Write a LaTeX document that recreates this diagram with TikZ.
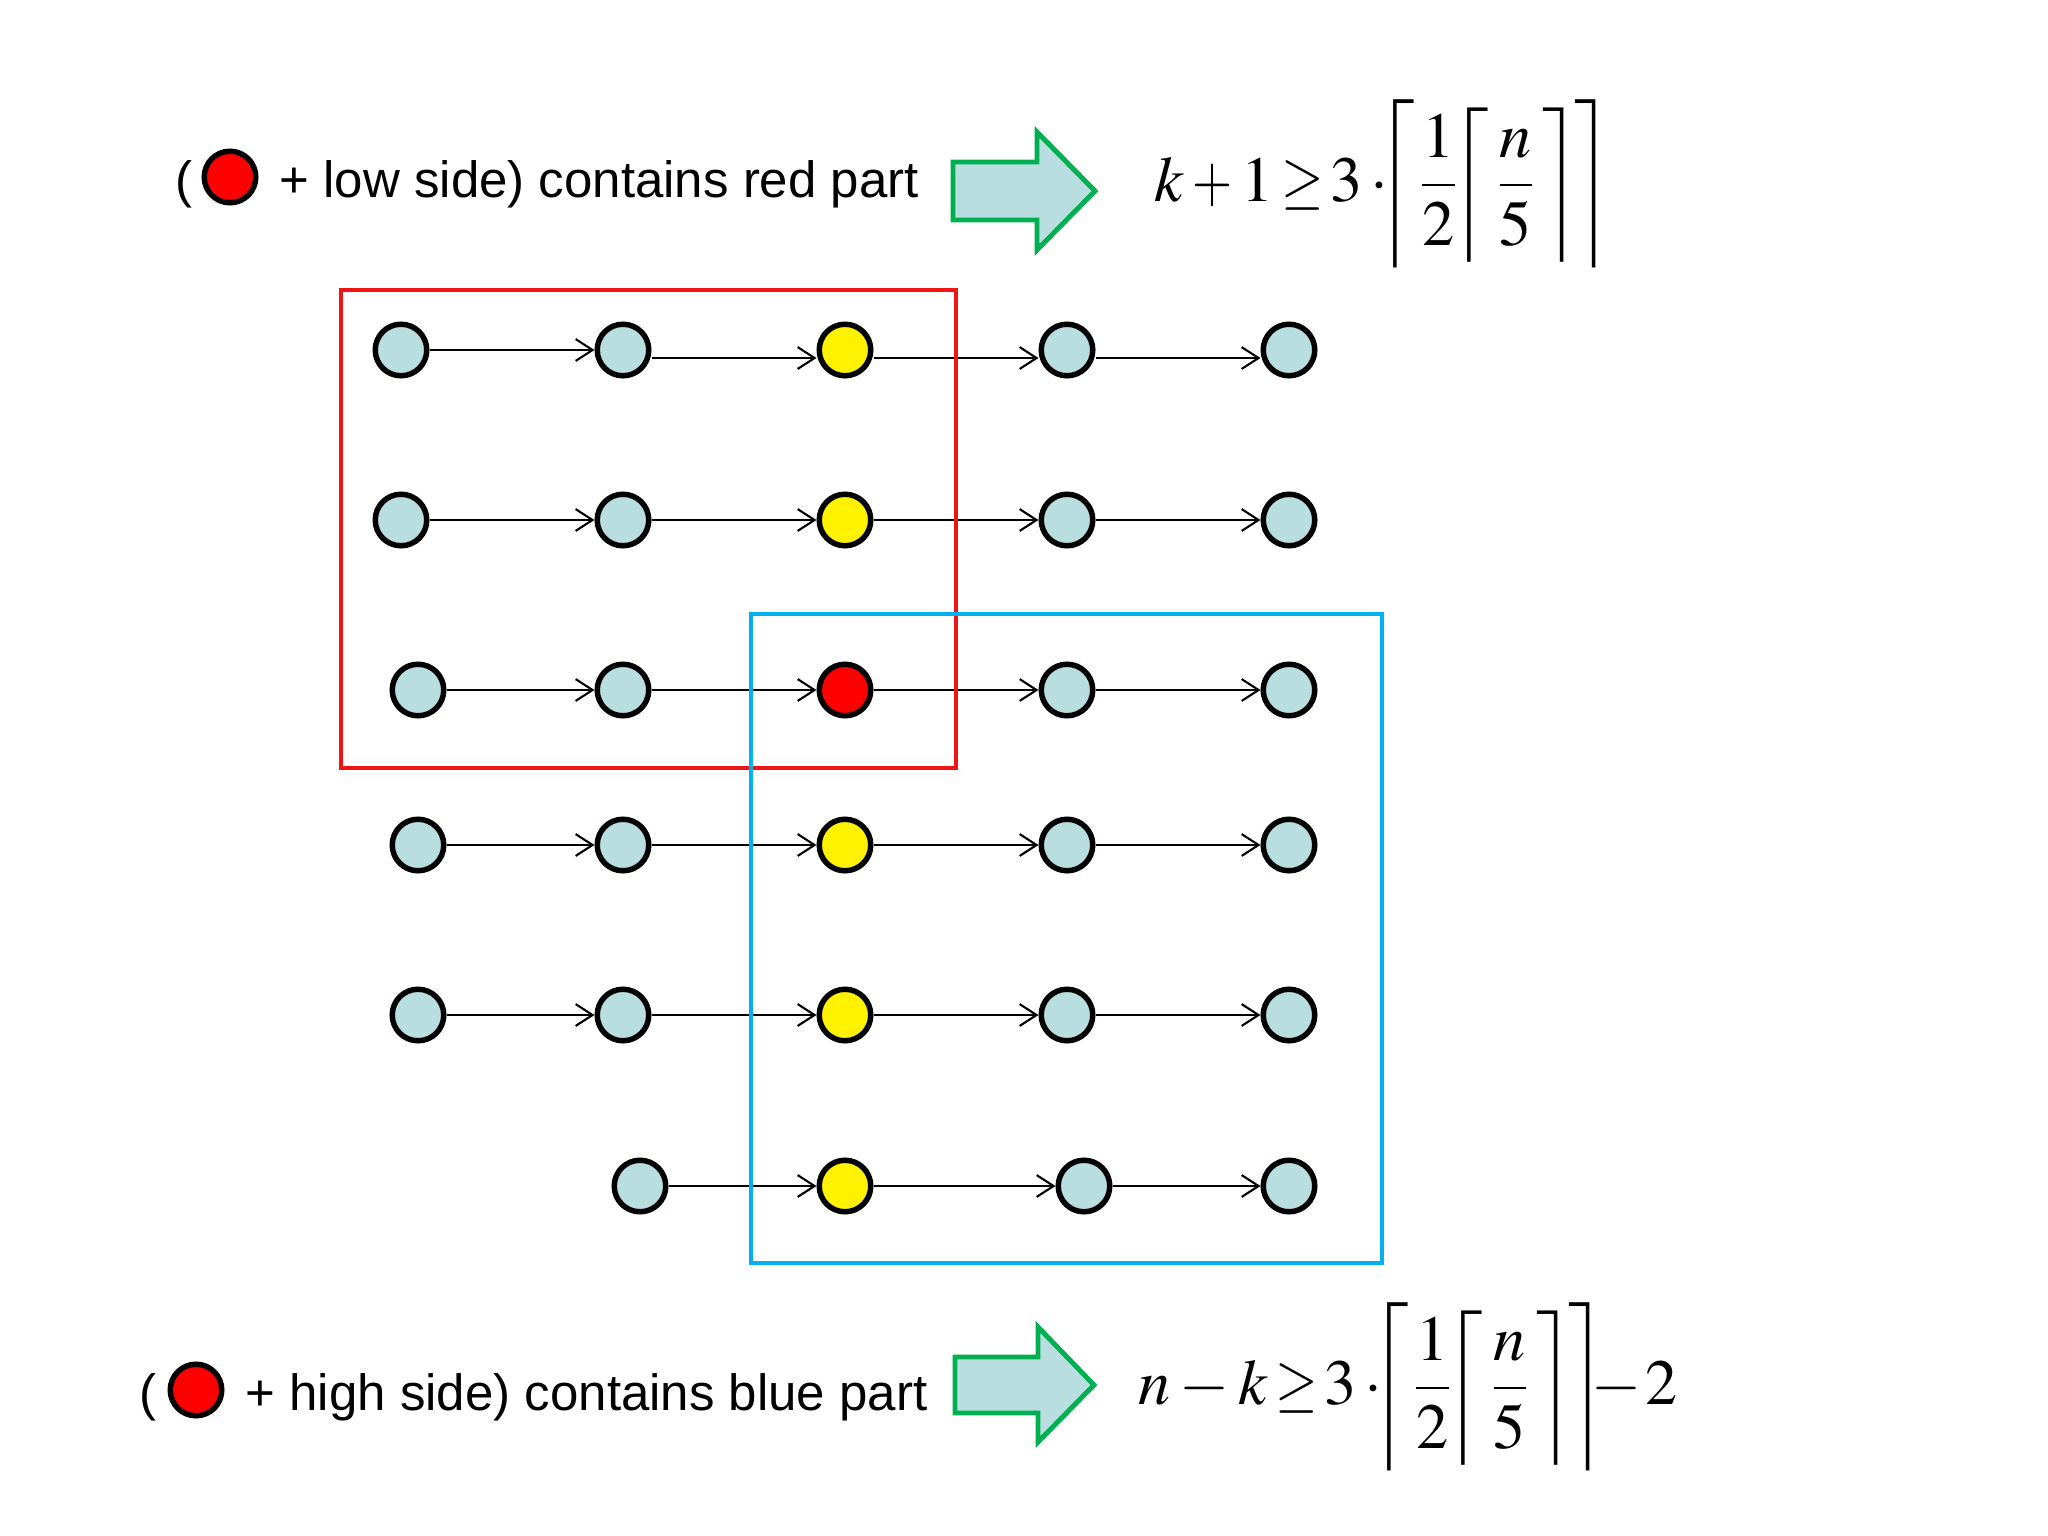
\documentclass[tikz,border=0pt]{standalone}
\usepackage{mathptmx}
\usepackage{graphicx}
\usepackage[no-math]{fontspec}
\setmainfont{Liberation Sans}
\usetikzlibrary{arrows.meta}
\definecolor{nodeblue}{RGB}{185,222,224}
\definecolor{arrowgreen}{RGB}{0,176,80}
\definecolor{boxblue}{RGB}{0,176,240}
\definecolor{boxred}{RGB}{240,20,20}
\newcommand{\olc}{\mathopen{\scalebox{1}[1.09]{$\bigg\lceil$}}}
\newcommand{\orc}{\mathclose{\scalebox{1}[1.09]{$\bigg\rceil$}}}
\newcommand{\nplus}{\mathbin{\scalebox{0.8}[1]{$+$}}}
\newcommand{\ngeq}{\mathrel{\scalebox{0.85}[1]{$\geq$}}}
\newcommand{\ndot}{\mkern2mu{\cdot}\mkern-3mu}
\newcommand{\fmlceil}{\olc{\frac{1}{2}}\mkern-3mu\biggl\lceil\mkern0.8mu{\frac{n}{5}}\mkern0.8mu\biggr\rceil\mkern-1.5mu\orc}
\begin{document}
\begin{tikzpicture}[x=0.01cm,y=-0.01cm,
  dot/.style={circle, draw=black, line width=1.56pt, minimum size=0.515cm, inner sep=0pt},
  cy/.style={dot, fill=nodeblue},
  yl/.style={dot, fill=yellow},
  rd/.style={dot, fill=red},
  link/.style={line width=0.6pt, -{Straight Barb[length=4.8pt,width=6.2pt]}},
  lbl/.style={font=\fontsize{14.5}{17}\selectfont, inner sep=0pt, anchor=base west},
  fml/.style={inner sep=0pt, anchor=base west, scale=1.83, transform shape,
    execute at begin node={\medmuskip=2.5mu\thickmuskip=2mu}},
  bigarrow/.style={draw=arrowgreen, fill=nodeblue, line width=1.4pt, line join=miter},
  redbox/.style={draw=boxred, line width=1.3pt},
  bluebox/.style={draw=boxblue, line width=1.3pt}]
\useasboundingbox (0,0) rectangle (2048,1536);

% top caption
\node[lbl] (lp1) at (175,197) {(};
\node[rd] (rc1) at (230,177) {};
\node[lbl] (t1) at (279,197) {+ low side) contains red part};
\draw[bigarrow] (953,162) -- (1037,162) -- (1037,132) -- (1095,191) -- (1037,250) -- (1037,220) -- (953,220) -- cycle;
\node[fml] (f1) at (1153,201) {$\displaystyle k\nplus 1\ngeq 3\ndot\fmlceil$};

% bottom caption
\node[lbl] (lp2) at (139,1410) {(};
\node[rd] (rc2) at (196,1390) {};
\node[lbl] (t2) at (245,1410) {+ high side) contains blue part};
\draw[bigarrow] (955,1357) -- (1038,1357) -- (1038,1327) -- (1094,1385) -- (1038,1442) -- (1038,1413) -- (955,1413) -- cycle;
\node[fml] (f2) at (1137,1404) {$\displaystyle n-k\ngeq 3\ndot\fmlceil\mkern-4mu{-}\mkern1mu2$};

% grid of nodes
\node[cy] (n11) at (401,350) {};
\node[cy] (n12) at (623,350) {};
\node[yl] (n13) at (845,350) {};
\node[cy] (n14) at (1067,350) {};
\node[cy] (n15) at (1289,350) {};

\node[cy] (n21) at (401,520) {};
\node[cy] (n22) at (623,520) {};
\node[yl] (n23) at (845,520) {};
\node[cy] (n24) at (1067,520) {};
\node[cy] (n25) at (1289,520) {};

\node[cy] (n31) at (418,690) {};
\node[cy] (n32) at (623,690) {};
\node[rd] (n33) at (845,690) {};
\node[cy] (n34) at (1067,690) {};
\node[cy] (n35) at (1289,690) {};

\node[cy] (n41) at (418,845) {};
\node[cy] (n42) at (623,845) {};
\node[yl] (n43) at (845,845) {};
\node[cy] (n44) at (1067,845) {};
\node[cy] (n45) at (1289,845) {};

\node[cy] (n51) at (418,1015) {};
\node[cy] (n52) at (623,1015) {};
\node[yl] (n53) at (845,1015) {};
\node[cy] (n54) at (1067,1015) {};
\node[cy] (n55) at (1289,1015) {};

\node[cy] (n61) at (640,1186) {};
\node[yl] (n62) at (845,1186) {};
\node[cy] (n63) at (1084,1186) {};
\node[cy] (n64) at (1289,1186) {};

% connectors
\draw[link] (n11) -- (n12);
\draw[link] ([yshift=-2.28pt]n12.east) -- ([yshift=-2.28pt]n13.west);
\draw[link] ([yshift=-2.28pt]n13.east) -- ([yshift=-2.28pt]n14.west);
\draw[link] ([yshift=-2.28pt]n14.east) -- ([yshift=-2.28pt]n15.west);
\draw[link] (n21) -- (n22);
\draw[link] (n22) -- (n23);
\draw[link] (n23) -- (n24);
\draw[link] (n24) -- (n25);
\draw[link] (n31) -- (n32);
\draw[link] (n32) -- (n33);
\draw[link] (n33) -- (n34);
\draw[link] (n34) -- (n35);
\draw[link] (n41) -- (n42);
\draw[link] (n42) -- (n43);
\draw[link] (n43) -- (n44);
\draw[link] (n44) -- (n45);
\draw[link] (n51) -- (n52);
\draw[link] (n52) -- (n53);
\draw[link] (n53) -- (n54);
\draw[link] (n54) -- (n55);
\draw[link] (n61) -- (n62);
\draw[link] (n62) -- (n63);
\draw[link] (n63) -- (n64);

% boxes
\draw[redbox] (341,290) rectangle (956,768);
\draw[bluebox] (751,614) rectangle (1382,1263);
\end{tikzpicture}
\end{document}
